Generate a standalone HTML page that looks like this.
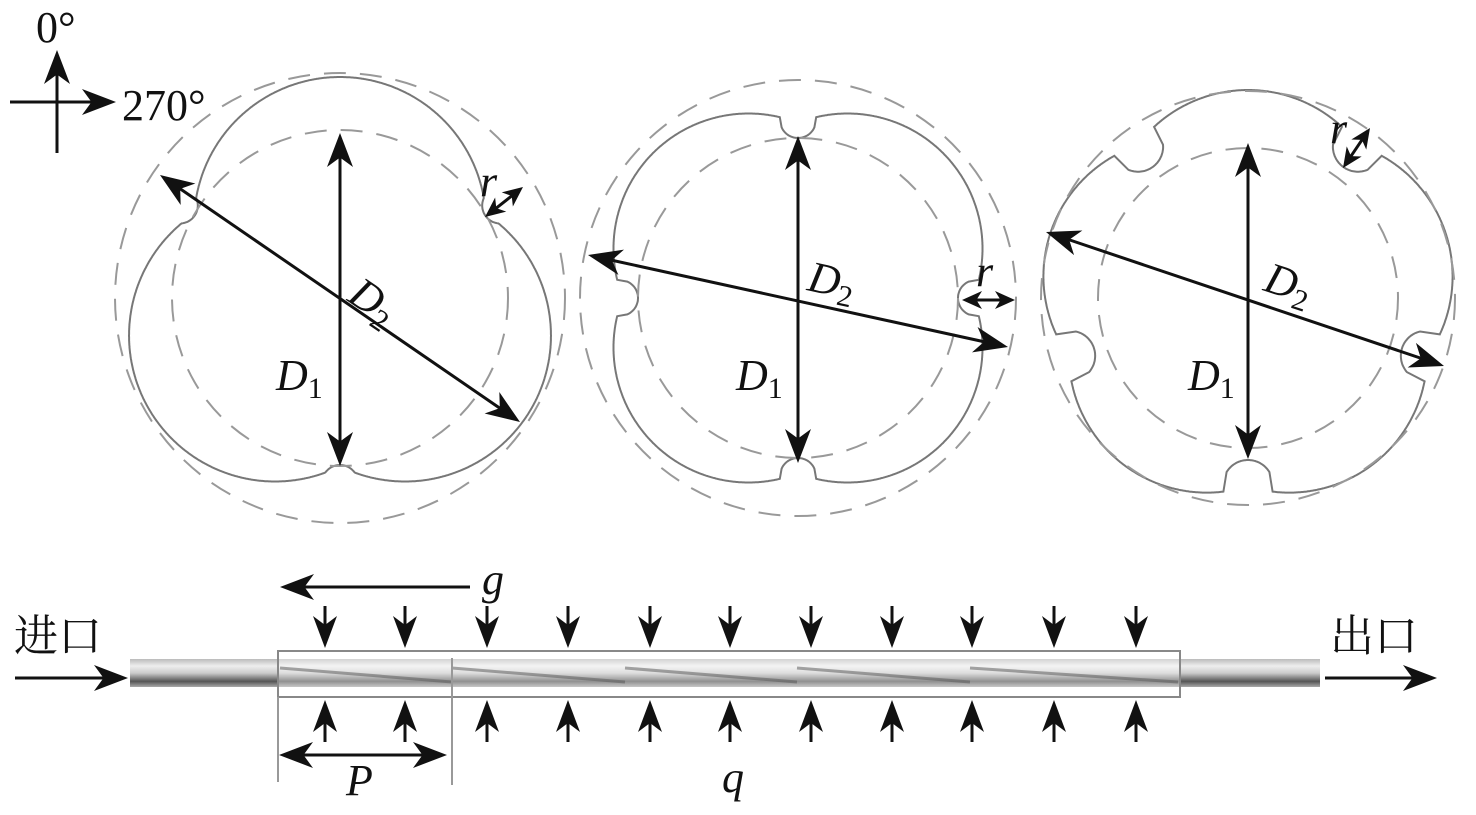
<!DOCTYPE html>
<html><head><meta charset="utf-8"><style>
html,body{margin:0;padding:0;background:#fff}
svg{display:block}
text{font-family:"Liberation Serif","Noto Serif CJK SC",serif;fill:#111}
</style></head><body>
<svg id="s" width="1476" height="815" viewBox="0 0 1476 815" xmlns="http://www.w3.org/2000/svg">
<defs>
<linearGradient id="tg" x1="0" y1="0" x2="0" y2="1">
<stop offset="0" stop-color="#bbb"/><stop offset="0.25" stop-color="#eee"/><stop offset="0.5" stop-color="#ccc"/><stop offset="0.8" stop-color="#555"/><stop offset="1" stop-color="#aaa"/></linearGradient>
</defs>
<g id="shapes" fill="none" stroke="#777" stroke-width="2"></g>
<g fill="none" stroke="#999" stroke-width="2" stroke-dasharray="22,14">
<circle cx="340" cy="298" r="225"/><circle cx="340" cy="298" r="168"/>
<circle cx="798" cy="298" r="218"/><circle cx="798" cy="298" r="160"/>
<circle cx="1248" cy="298" r="207"/><circle cx="1248" cy="298" r="150"/>
</g>
<rect x="130" y="659" width="1190" height="28" fill="url(#tg)"/>
<rect x="278" y="651" width="902" height="46" fill="#fff" fill-opacity="0.35" stroke="#888" stroke-width="2"/>
<g stroke="#555" stroke-width="3" opacity="0.5">
<path d="M280,668 L452,682 M452,668 L625,682 M625,668 L797,682 M797,668 L970,682 M970,668 L1178,682"/>
</g>
<line x1="278" y1="697" x2="278" y2="782" stroke="#999" stroke-width="2"/>
<line x1="452" y1="658" x2="452" y2="785" stroke="#999" stroke-width="2"/>
<g id="arr" stroke="#111" stroke-width="3" fill="#111"></g>
<g font-size="44">
<text x="36" y="42">0°</text>
<text x="122" y="120">270°</text>
<text x="480" y="196" font-style="italic">r</text>
<text x="976" y="286" font-style="italic">r</text>
<text x="1330" y="143" font-style="italic">r</text>
<text x="276" y="390" font-style="italic">D<tspan font-size="30" font-style="normal" dy="8">1</tspan></text>
<text x="736" y="390" font-style="italic">D<tspan font-size="30" font-style="normal" dy="8">1</tspan></text>
<text x="1188" y="390" font-style="italic">D<tspan font-size="30" font-style="normal" dy="8">1</tspan></text>
<text transform="translate(346,300) rotate(34)" font-style="italic">D<tspan font-size="30" font-style="normal" dy="8">2</tspan></text>
<text transform="translate(806,290) rotate(12)" font-style="italic">D<tspan font-size="30" font-style="normal" dy="8">2</tspan></text>
<text transform="translate(1262,290) rotate(18)" font-style="italic">D<tspan font-size="30" font-style="normal" dy="8">2</tspan></text>
<text x="482" y="594" font-style="italic">g</text>
<text x="346" y="795" font-style="italic">P</text>
<text x="722" y="792" font-style="italic">q</text>
<text x="14" y="651">进口</text>
<text x="1330" y="651">出口</text>
</g>
</svg>
<script>
(function(){
var NS="http://www.w3.org/2000/svg";
var g=document.getElementById('shapes');
function shape(cx,cy,n,c,rho,rn,rr,off){
 var pts=[];
 for(var i=0;i<1440;i++){
  var th=i/1440*2*Math.PI;
  var ux=Math.sin(th),uy=-Math.cos(th);
  var best=0;
  for(var k=0;k<n;k++){
   var a=off+k*2*Math.PI/n;
   var Cx=c*Math.sin(a),Cy=-c*Math.cos(a);
   var d=ux*Cx+uy*Cy;var disc=d*d-c*c+rho*rho;
   if(disc>=0){var t=d+Math.sqrt(disc);if(t>best)best=t;}
  }
  for(var k=0;k<n;k++){
   var a=off+Math.PI/n+k*2*Math.PI/n;var R=rn+rr;
   var Nx=R*Math.sin(a),Ny=-R*Math.cos(a);
   var d=ux*Nx+uy*Ny;var disc=d*d-R*R+rr*rr;
   if(disc>=0){var tn=d-Math.sqrt(disc);var tf=d+Math.sqrt(disc);if(best>tn&&best<tf+0.01)best=tn;}
  }
  pts.push((cx+ux*best).toFixed(1)+","+(cy+uy*best).toFixed(1));
 }
 var p=document.createElementNS(NS,'path');
 p.setAttribute('d','M'+pts.join(' L')+' Z');g.appendChild(p);
}
shape(340,298,3,75,146,167,18,0);
shape(798,298,4,70,135,160,18,Math.PI/4);
shape(1248,298,5,70,138,162,25,0);
var ar=document.getElementById('arr');
function head(x,y,dx,dy,L,W){
 var l=Math.hypot(dx,dy);dx/=l;dy/=l;var px=-dy,py=dx;
 var p=document.createElementNS(NS,'path');
 var bx=x-dx*L,by=y-dy*L,ix=x-dx*L*0.72,iy=y-dy*L*0.72;
 p.setAttribute('d','M'+x+','+y+' L'+(bx+px*W)+','+(by+py*W)+' L'+ix+','+iy+' L'+(bx-px*W)+','+(by-py*W)+'Z');
 p.setAttribute('stroke','none');ar.appendChild(p);
}
function arrow(x1,y1,x2,y2,both,L,W,sw){
 L=L||34;W=W||13;
 var dx=x2-x1,dy=y2-y1,l=Math.hypot(dx,dy),ux=dx/l,uy=dy/l;
 var ln=document.createElementNS(NS,'line');
 ln.setAttribute('x1',both?x1+ux*L*0.6:x1);ln.setAttribute('y1',both?y1+uy*L*0.6:y1);
 ln.setAttribute('x2',x2-ux*L*0.6);ln.setAttribute('y2',y2-uy*L*0.6);
 if(sw)ln.setAttribute('stroke-width',sw);
 ar.appendChild(ln);
 head(x2,y2,dx,dy,L,W);
 if(both)head(x1,y1,-dx,-dy,L,W);
}
arrow(57,153,57,50);
arrow(10,102,116,102);
arrow(340,133,340,466,1);
arrow(160,175,520,422,1);
arrow(485,217,523,187,1,20,9,3);
arrow(962,300,1015,300,1,20,9,3);
arrow(798,136,798,463,1);
arrow(588,255,1008,347,1);
arrow(1248,143,1248,459,1);
arrow(1046,232,1444,366,1);
arrow(1343,168,1370,128,1,20,9,3);
arrow(470,587,280,587);
arrow(279,755,447,755,1);
arrow(15,678,128,678);
arrow(1325,678,1437,678);
[325,405,487,568,650,730,811,892,972,1054,1136].forEach(function(x){
 arrow(x,606,x,648,0,32,12);
 arrow(x,742,x,700,0,32,12);
});
})();
</script>
</body></html>
